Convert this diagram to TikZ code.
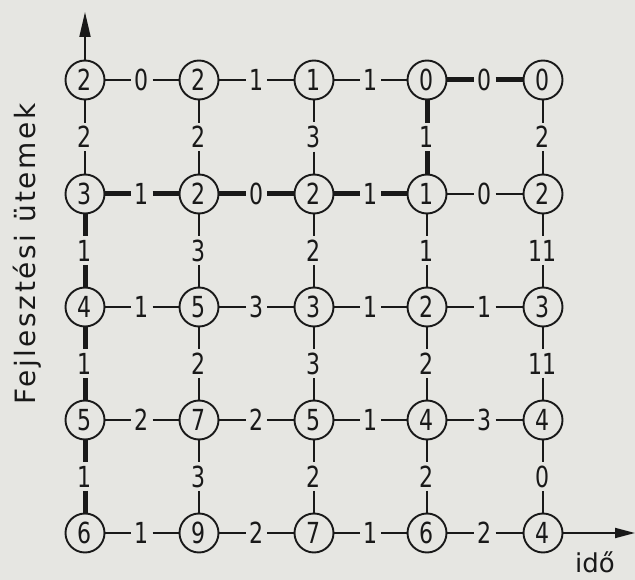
\documentclass[tikz,border=0pt]{standalone}
\usepackage{fontspec}
\setmainfont{DejaVu Sans}
\newfontfamily\digfont[FakeStretch=0.76]{DejaVu Sans}
\newfontfamily\labfont[LetterSpace=9]{DejaVu Sans}
\usetikzlibrary{arrows.meta}
\definecolor{paper}{RGB}{230,230,226}
\definecolor{ink}{RGB}{25,25,25}
\tikzset{
  st/.style={circle, draw=ink, line width=1.9pt, minimum size=39pt, inner sep=0pt,
    text=ink, font=\digfont\fontsize{29}{29}\selectfont},
  wt/.style={inner sep=3.5pt, text=ink, font=\digfont\fontsize{29}{29}\selectfont},
  tn/.style={draw=ink, line width=1.9pt},
  tk/.style={draw=ink, line width=5pt},
  axislabel/.style={text=ink, inner sep=0pt},
}
\begin{document}
\begin{tikzpicture}[x=1pt,y=-1pt]
\fill[paper] (0,0) rectangle (635,580);
\useasboundingbox (0,0) rectangle (635,580);
\def\xs{{85,199,314,427,543}}
% states
\foreach \r/\y/\vals in {1/80/{2,2,1,0,0},2/194/{3,2,2,1,2},3/307/{4,5,3,2,3},4/420/{5,7,5,4,4},5/533/{6,9,7,6,4}}{
  \foreach \v [count=\c] in \vals {
    \pgfmathsetmacro\xx{\xs[\c-1]}
    \node[st] (n\c\r) at (\xx,\y) {\v};
  }
}
% horizontal edges: col/row/weight/style
\foreach \c/\r/\w/\s in {
  1/1/0/tn, 2/1/1/tn, 3/1/1/tn, 4/1/0/tk,
  1/2/1/tk, 2/2/0/tk, 3/2/1/tk, 4/2/0/tn,
  1/3/1/tn, 2/3/3/tn, 3/3/1/tn, 4/3/1/tn,
  1/4/2/tn, 2/4/2/tn, 3/4/1/tn, 4/4/3/tn,
  1/5/1/tn, 2/5/2/tn, 3/5/1/tn, 4/5/2/tn}{
  \pgfmathtruncatemacro\cn{\c+1}
  \path (n\c\r.center) -- node[wt] (h\c\r) {\w} (n\cn\r.center);
  \draw[\s] (n\c\r) -- (h\c\r) -- (n\cn\r);
}
% vertical edges: col/row/weight/style
\foreach \c/\r/\w/\s in {
  1/1/2/tn, 1/2/1/tk, 1/3/1/tk, 1/4/1/tk,
  2/1/2/tn, 2/2/3/tn, 2/3/2/tn, 2/4/3/tn,
  3/1/3/tn, 3/2/2/tn, 3/3/3/tn, 3/4/2/tn,
  4/1/1/tk, 4/2/1/tn, 4/3/2/tn, 4/4/2/tn,
  5/1/2/tn, 5/2/11/tn, 5/3/11/tn, 5/4/0/tn}{
  \pgfmathtruncatemacro\rn{\r+1}
  \path (n\c\r.center) -- node[wt] (v\c\r) {\w} (n\c\rn.center);
  \draw[\s] (n\c\r) -- (v\c\r) -- (n\c\rn);
}
% axes
\coordinate (ytop) at (85,12);
\coordinate (xend) at (635,533);
\draw[tn, -{Triangle[length=25pt,width=11pt]}] (n11) -- (ytop);
\draw[tn, -{Triangle[length=20pt,width=10pt]}] (n55) -- (xend);
\node[axislabel, rotate=90, font=\labfont\fontsize{28}{28}\selectfont] (ylab) at (27,254) {Fejlesztési\hspace{12pt}ütemek};
\node[axislabel, font=\fontsize{26}{26}\selectfont] (xlab) at (595,562) {idő};
\end{tikzpicture}
\end{document}
